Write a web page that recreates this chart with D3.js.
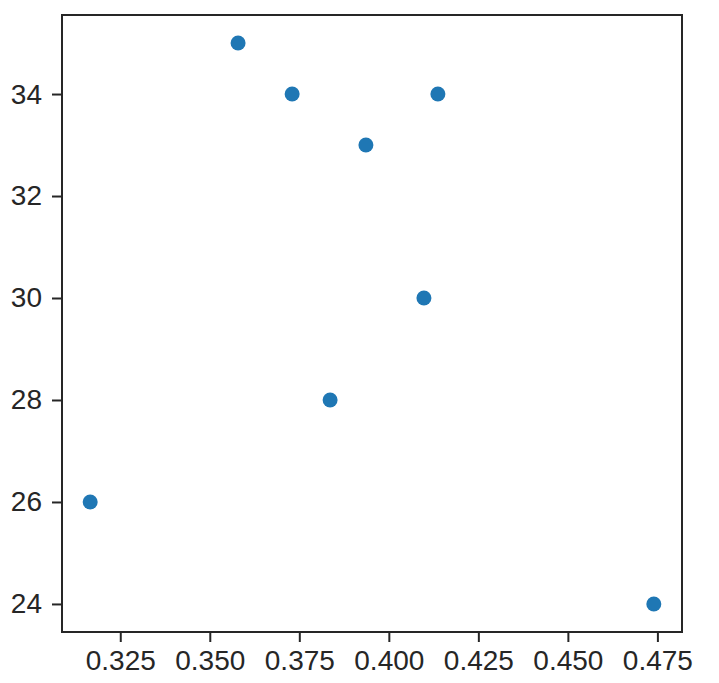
<!DOCTYPE html>
<html>
<head>
<meta charset="utf-8">
<script src="https://cdn.jsdelivr.net/npm/d3@7"></script>
<style>
  body { margin: 0; background: #fff; }
  .axis text { font-family: "Liberation Sans", Arial, sans-serif; font-size: 28px; fill: #262626; }
  .axis path, .axis line { stroke: #262626; stroke-width: 2; }
</style>
</head>
<body>
<div id="chart"></div>
<script>
var xVals = [0.3166, 0.3579, 0.3730, 0.3836, 0.3936, 0.4098, 0.4137, 0.4740];
var yVals = [26, 35, 34, 28, 33, 30, 34, 24];
var xTicks = [0.325, 0.350, 0.375, 0.400, 0.425, 0.450, 0.475];
var yTicks = [24, 26, 28, 30, 32, 34];

var width = 719, height = 683;
var mLeft = 62, mRight = 682, mTop = 15, mBottom = 632;

var svg = d3.select("#chart").append("svg")
    .attr("width", width)
    .attr("height", height);

// 5% padding like matplotlib
var xr = d3.extent(xVals), yr = d3.extent(yVals);
var xp = (xr[1] - xr[0]) * 0.05, yp = (yr[1] - yr[0]) * 0.05;

var x = d3.scaleLinear().domain([xr[0] - xp, xr[1] + xp]).range([mLeft, mRight]);
var y = d3.scaleLinear().domain([yr[0] - yp, yr[1] + yp]).range([mBottom, mTop]);

svg.append("g")
    .attr("class", "axis")
    .attr("transform", "translate(0," + mBottom + ")")
    .call(d3.axisBottom(x).tickValues(xTicks).tickFormat(d3.format(".3f")).tickSize(10).tickPadding(8).tickSizeOuter(0))
    .call(function(g) { g.select(".domain").remove(); });

svg.append("g")
    .attr("class", "axis")
    .attr("transform", "translate(" + mLeft + ",0)")
    .call(d3.axisLeft(y).tickValues(yTicks).tickFormat(d3.format("d")).tickSize(10).tickPadding(10).tickSizeOuter(0))
    .call(function(g) { g.select(".domain").remove(); });

svg.append("rect")
    .attr("x", mLeft)
    .attr("y", mTop)
    .attr("width", mRight - mLeft)
    .attr("height", mBottom - mTop)
    .attr("fill", "none")
    .attr("stroke", "#262626")
    .attr("stroke-width", 2);

svg.append("g").selectAll("circle")
    .data(xVals)
    .enter().append("circle")
    .attr("cx", function(d) { return x(d); })
    .attr("cy", function(d, i) { return y(yVals[i]); })
    .attr("r", 7.5)
    .attr("fill", "#1f77b4");
</script>
</body>
</html>
